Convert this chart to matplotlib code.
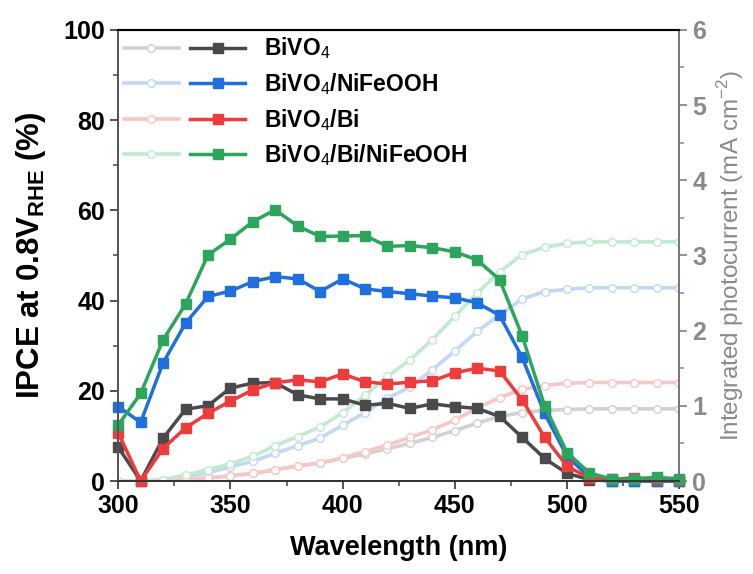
import matplotlib
matplotlib.use("Agg")
import matplotlib.pyplot as plt
import numpy as np
from matplotlib.lines import Line2D
from matplotlib.legend_handler import HandlerTuple
from matplotlib.ticker import MultipleLocator

plt.rcParams['font.family'] = ['Liberation Sans', 'DejaVu Sans']
plt.rcParams['mathtext.fontset'] = 'custom'
plt.rcParams['mathtext.rm'] = 'Liberation Sans'
plt.rcParams['mathtext.bf'] = 'Liberation Sans:bold'

# wavelengths (nm)
wl = np.arange(300, 551, 10)

# IPCE (%) values
ipce_bivo4 = [7.5, 0, 9.5, 15.9, 16.7, 20.6, 21.7, 21.8, 19.1, 18.2, 18.2, 16.8, 17.2,
              16.1, 17.1, 16.5, 16.1, 14.3, 9.7, 5.0, 1.7, 0.3, 0, 0, 0, 0]
ipce_nifeooh = [16.5, 13.0, 26.2, 35.0, 40.9, 42.1, 44.2, 45.3, 44.8, 42.0, 44.8, 42.6, 42.0,
                41.5, 41.0, 40.6, 39.5, 36.7, 27.4, 15.0, 5.5, 0.8, 0.1, 0, 0.1, 0]
ipce_bi = [10.7, 0, 7.2, 11.8, 15.0, 17.7, 20.2, 21.8, 22.4, 22.0, 23.7, 22.0, 21.5,
           21.9, 22.2, 24.0, 25.0, 24.4, 18.0, 9.7, 3.3, 0.6, 0.4, 0.7, 0.4, 0.3]
ipce_bi_nifeooh = [12.4, 19.4, 31.3, 39.2, 50.1, 53.6, 57.5, 60.1, 56.5, 54.2, 54.3, 54.4, 52.0,
                   52.2, 51.7, 50.8, 49.0, 44.6, 32.2, 16.7, 6.3, 1.8, 0.4, 0.5, 0.8, 0.5]

# integrated photocurrent (mA cm^-2)
j_bivo4 = [0, 0, 0.01, 0.02, 0.04, 0.07, 0.10, 0.15, 0.20, 0.24, 0.30, 0.36, 0.43,
           0.50, 0.58, 0.67, 0.77, 0.86, 0.91, 0.94, 0.95, 0.96, 0.96, 0.96, 0.96, 0.96]
j_nifeooh = [0, 0, 0.01, 0.06, 0.11, 0.19, 0.26, 0.37, 0.47, 0.57, 0.74, 0.91, 1.10,
             1.25, 1.48, 1.73, 1.99, 2.21, 2.42, 2.52, 2.55, 2.57, 2.57, 2.57, 2.57, 2.57]
j_bi = [0, 0, 0.01, 0.02, 0.04, 0.07, 0.10, 0.15, 0.20, 0.24, 0.31, 0.39, 0.48,
        0.58, 0.68, 0.81, 0.97, 1.11, 1.22, 1.27, 1.30, 1.31, 1.31, 1.31, 1.31, 1.31]
j_bi_nifeooh = [0, 0, 0.02, 0.08, 0.15, 0.23, 0.33, 0.47, 0.59, 0.72, 0.91, 1.14, 1.39,
                1.61, 1.88, 2.19, 2.50, 2.78, 3.01, 3.11, 3.16, 3.18, 3.18, 3.18, 3.18, 3.18]

labels = ['BiVO$_4$', 'BiVO$_4$/NiFeOOH', 'BiVO$_4$/Bi', 'BiVO$_4$/Bi/NiFeOOH']
dark = ['#4a4a4a', '#1f6fde', '#ee3b3b', '#2ea55c']
light = ['#d2d2d2', '#c3d8f6', '#f8c6c6', '#c4e9d1']
ipce = [ipce_bivo4, ipce_nifeooh, ipce_bi, ipce_bi_nifeooh]
jph = [j_bivo4, j_nifeooh, j_bi, j_bi_nifeooh]

fig = plt.figure(figsize=(7.53, 5.74), dpi=100)
ax = fig.add_axes([0.157, 0.162, 0.745, 0.786])
ax2 = ax.twinx()
ax.set_zorder(ax2.get_zorder() + 1)
ax.patch.set_visible(False)

handles = []
for i in range(4):
    ax2.plot(wl, jph[i], color=light[i], lw=2.6, marker='o', ms=5.5,
             mfc='white', mec=light[i], mew=1.0)
    ax.plot(wl, ipce[i], color=dark[i], lw=2.5, marker='s', ms=7.5,
            mec=dark[i], clip_on=False)
    h1 = Line2D([], [], color=light[i], lw=2.6, marker='o', ms=5.5, mfc='white', mec=light[i])
    h2 = Line2D([], [], color=dark[i], lw=2.5, marker='s', ms=7.5)
    handles.append((h1, h2))

ax.set_xlim(300, 550)
ax.set_ylim(0, 100)
ax2.set_ylim(0, 6)

ax.xaxis.set_major_locator(MultipleLocator(50))
ax.xaxis.set_minor_locator(MultipleLocator(25))
ax.yaxis.set_major_locator(MultipleLocator(20))
ax.yaxis.set_minor_locator(MultipleLocator(10))
ax2.yaxis.set_major_locator(MultipleLocator(1))
ax2.yaxis.set_minor_locator(MultipleLocator(0.5))

gray = '#8a8a8a'
for a in (ax, ax2):
    a.spines['top'].set_color('black')
    a.spines['top'].set_linewidth(1.5)
    a.spines['left'].set_color('#555555')
    a.spines['bottom'].set_color('#333333')
    a.spines['right'].set_color('#777777')
    for s in ('left', 'bottom', 'right'):
        a.spines[s].set_linewidth(1.3)

ax.tick_params(axis='both', which='major', direction='out', length=6, width=1.3,
               labelsize=18, color='#444444')
ax.tick_params(axis='both', which='minor', direction='out', length=3.5, width=1.1, color='#444444')
ax2.tick_params(axis='y', which='major', direction='out', length=6, width=1.3,
                labelsize=18, colors=gray)
ax2.tick_params(axis='y', which='minor', direction='out', length=3.5, width=1.1, color=gray)
for lab in ax.get_xticklabels() + ax.get_yticklabels() + ax2.get_yticklabels():
    lab.set_fontweight('bold')

ax.set_xlabel('Wavelength (nm)', fontsize=19.5, fontweight='bold', labelpad=12)
ax.set_ylabel(r'IPCE at 0.8V$_{\mathbf{RHE}}$ (%)', fontsize=22.5, fontweight='bold', labelpad=11)
ax2.set_ylabel('Integrated photocurrent (mA cm$^{-2}$)', fontsize=17.5, color=gray, labelpad=6)

leg = ax.legend(handles, labels, handler_map={tuple: HandlerTuple(ndivide=None, pad=0.5)},
                loc='upper left', frameon=False, fontsize=16.5, handlelength=5.3,
                handletextpad=0.8, labelspacing=0.42, borderaxespad=0.15, borderpad=0.1,
                bbox_to_anchor=(0.0, 1.0))
for t in leg.get_texts():
    t.set_fontweight('bold')

fig.savefig('out.png', dpi=100)
